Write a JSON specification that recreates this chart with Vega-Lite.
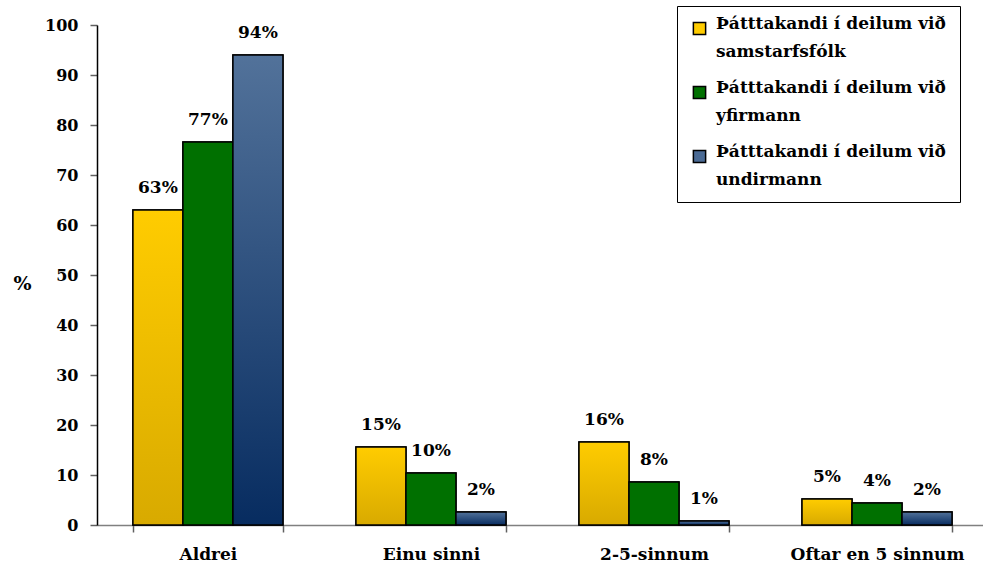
{
  "$schema": "https://vega.github.io/schema/vega-lite/v6.json",
  "width": 886,
  "height": 500,
  "autosize": {"type": "none"},
  "padding": {"left": 97, "top": 25, "right": 0, "bottom": 43},
  "background": "white",
  "data": {
    "values": [
      {"cat": "Aldrei", "s": "Þátttakandi í deilum við|samstarfsfólk", "v": 63.0, "lbl": "63%"},
      {"cat": "Aldrei", "s": "Þátttakandi í deilum við|yfirmann", "v": 76.6, "lbl": "77%"},
      {"cat": "Aldrei", "s": "Þátttakandi í deilum við|undirmann", "v": 94.0, "lbl": "94%"},
      {"cat": "Einu sinni", "s": "Þátttakandi í deilum við|samstarfsfólk", "v": 15.6, "lbl": "15%"},
      {"cat": "Einu sinni", "s": "Þátttakandi í deilum við|yfirmann", "v": 10.4, "lbl": "10%"},
      {"cat": "Einu sinni", "s": "Þátttakandi í deilum við|undirmann", "v": 2.6, "lbl": "2%"},
      {"cat": "2-5-sinnum", "s": "Þátttakandi í deilum við|samstarfsfólk", "v": 16.6, "lbl": "16%"},
      {"cat": "2-5-sinnum", "s": "Þátttakandi í deilum við|yfirmann", "v": 8.6, "lbl": "8%"},
      {"cat": "2-5-sinnum", "s": "Þátttakandi í deilum við|undirmann", "v": 0.8, "lbl": "1%"},
      {"cat": "Oftar en 5 sinnum", "s": "Þátttakandi í deilum við|samstarfsfólk", "v": 5.2, "lbl": "5%"},
      {"cat": "Oftar en 5 sinnum", "s": "Þátttakandi í deilum við|yfirmann", "v": 4.4, "lbl": "4%"},
      {"cat": "Oftar en 5 sinnum", "s": "Þátttakandi í deilum við|undirmann", "v": 2.6, "lbl": "2%"}
    ]
  },
  "encoding": {
    "x": {
      "field": "cat", "type": "nominal", "sort": null,
      "scale": {"paddingInner": 0.3274, "paddingOuter": 0.15, "align": 0.537},
      "axis": {
        "title": null, "labelAngle": 0, "domainColor": "#808080", "domainWidth": 1.5,
        "tickBand": "extent", "tickColor": "#606060", "tickSize": 7, "tickWidth": 1.5,
        "labelPadding": 14, "labelFont": "DejaVu Serif", "labelFontWeight": "bold",
        "labelFontSize": 17, "labelColor": "black", "labelLimit": 0
      }
    },
    "xOffset": {
      "field": "s", "type": "nominal",
      "scale": {"domain": ["Þátttakandi í deilum við|samstarfsfólk", "Þátttakandi í deilum við|yfirmann", "Þátttakandi í deilum við|undirmann"], "paddingInner": 0, "paddingOuter": 0}
    },
    "y": {
      "field": "v", "type": "quantitative",
      "scale": {"domain": [0, 100], "nice": false},
      "axis": {
        "title": "%", "titleAngle": 0, "titleX": -75, "titleY": 258, "titleAlign": "center",
        "titleBaseline": "middle", "titleFont": "DejaVu Serif", "titleFontWeight": "bold",
        "titleFontSize": 19, "titleColor": "black",
        "values": [0, 10, 20, 30, 40, 50, 60, 70, 80, 90, 100],
        "grid": false, "domainColor": "black", "domainWidth": 1.5,
        "tickColor": "#606060", "tickSize": 7, "tickWidth": 1.5, "labelPadding": 12,
        "labelFont": "DejaVu Serif", "labelFontWeight": "bold", "labelFontSize": 16,
        "labelColor": "black"
      }
    }
  },
  "layer": [
    {
      "mark": {"type": "bar", "stroke": "black", "strokeWidth": 1.5},
      "encoding": {
        "color": {
          "field": "s", "type": "nominal",
          "scale": {
            "domain": ["Þátttakandi í deilum við|samstarfsfólk", "Þátttakandi í deilum við|yfirmann", "Þátttakandi í deilum við|undirmann"],
            "range": ["#FFCC00", "#007000", "#4A6A94"]
          },
          "legend": {
            "title": null, "orient": "none", "legendX": 580, "legendY": -19,
            "strokeColor": "black", "fillColor": "white", "padding": 14,
            "symbolType": "square", "symbolSize": 150, "symbolStrokeColor": "black",
            "symbolStrokeWidth": 1.5, "labelFont": "DejaVu Serif",
            "labelFontWeight": "bold", "labelFontSize": 17, "labelLimit": 0,
            "labelColor": "black", "labelOffset": 8, "labelBaseline": "alphabetic",
            "rowPadding": 18, "labelExpr": "split(datum.label, '|')"
          }
        }
      }
    },
    {
      "transform": [{"filter": "datum.s == 'Þátttakandi í deilum við|samstarfsfólk'"}],
      "mark": {
        "type": "bar", "stroke": "black", "strokeWidth": 1.5,
        "color": {"gradient": "linear", "x1": 0, "y1": 0, "x2": 0, "y2": 1,
          "stops": [{"offset": 0, "color": "#FFCC00"}, {"offset": 1, "color": "#D8AA00"}]}
      }
    },
    {
      "transform": [{"filter": "datum.s == 'Þátttakandi í deilum við|yfirmann'"}],
      "mark": {"type": "bar", "stroke": "black", "strokeWidth": 1.5, "color": "#007000"}
    },
    {
      "transform": [{"filter": "datum.s == 'Þátttakandi í deilum við|undirmann'"}],
      "mark": {
        "type": "bar", "stroke": "black", "strokeWidth": 1.5,
        "color": {"gradient": "linear", "x1": 0, "y1": 0, "x2": 0, "y2": 1,
          "stops": [{"offset": 0, "color": "#52729A"}, {"offset": 1, "color": "#072C60"}]}
      }
    },
    {
      "mark": {"type": "text", "baseline": "alphabetic", "dy": -17, "font": "DejaVu Serif",
        "fontWeight": "bold", "fontSize": 17, "color": "black"},
      "encoding": {"text": {"field": "lbl"}}
    }
  ],
  "config": {
    "view": {"stroke": null},
    "style": {"guide-label": {"lineHeight": 28}}
  }
}
